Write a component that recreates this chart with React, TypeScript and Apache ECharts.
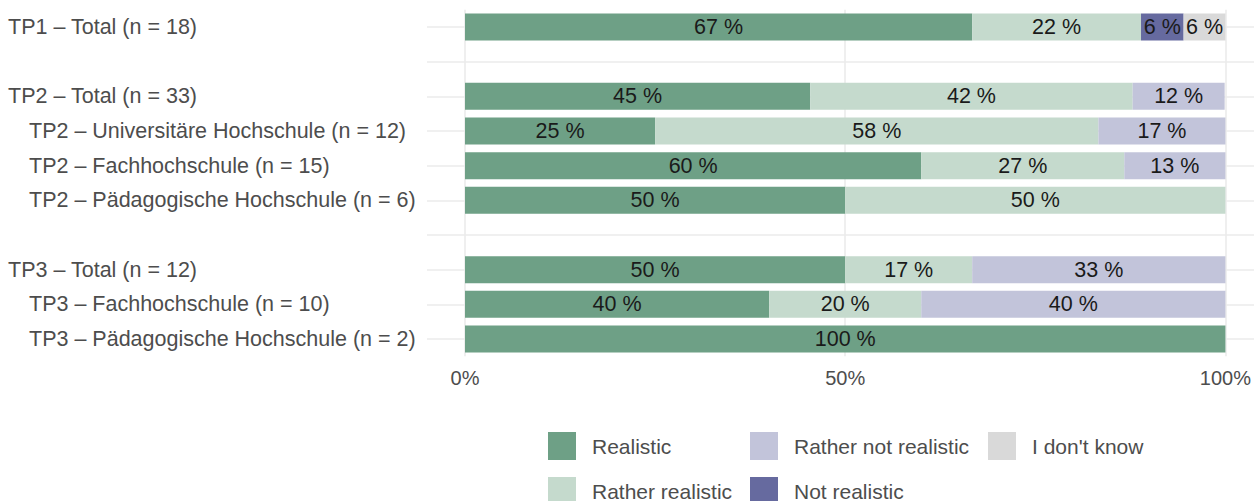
import React, { useEffect, useRef } from "react";
import * as echarts from "echarts";

const categories = [
  "TP1 – Total (n = 18)",
  " ",
  "TP2 – Total (n = 33)",
  "TP2 – Universitäre Hochschule (n = 12)",
  "TP2 – Fachhochschule (n = 15)",
  "TP2 – Pädagogische Hochschule (n = 6)",
  "  ",
  "TP3 – Total (n = 12)",
  "TP3 – Fachhochschule (n = 10)",
  "TP3 – Pädagogische Hochschule (n = 2)",
];
const indented = [false, false, false, true, true, true, false, false, true, true];

const seriesNames = ["Realistic", "Rather realistic", "Rather not realistic", "Not realistic", "I don't know"];
const colors = ["#6ea086", "#c5dacd", "#c2c4da", "#666a9f", "#d9d9d9"];

// percentages per category (blank rows are null)
const realistic = [66.7, null, 45.4, 25.0, 60.0, 50.0, null, 50.0, 40.0, 100.0];
const ratherRealistic = [22.2, null, 42.4, 58.3, 26.7, 50.0, null, 16.7, 20.0, 0];
const ratherNotRealistic = [0, null, 12.1, 16.7, 13.3, 0, null, 33.3, 40.0, 0];
const notRealistic = [5.6, null, 0, 0, 0, 0, null, 0, 0, 0];
const dontKnow = [5.6, null, 0, 0, 0, 0, null, 0, 0, 0];
const seriesValues = [realistic, ratherRealistic, ratherNotRealistic, notRealistic, dontKnow];

const xTicks = [0, 50, 100];

const FONT = "Liberation Sans, Arial, sans-serif";

export default function App() {
  const ref = useRef<HTMLDivElement>(null);
  useEffect(() => {
    if (!ref.current) return;
    const chart = echarts.init(ref.current, null, { renderer: "svg" });
    const band = (339 - 27) / 9;
    const gTop = 27 - band / 2;
    const gHeight = band * 10;

    const legendPos = [
      { left: 548, top: 432 },
      { left: 548, top: 477 },
      { left: 750, top: 432 },
      { left: 750, top: 477 },
      { left: 988, top: 432 },
    ];

    chart.setOption({
      animation: false,
      backgroundColor: "#ffffff",
      textStyle: { fontFamily: FONT },
      grid: [
        { left: 427, right: 0, top: 27, height: 312 },
        { left: 465, width: 761, top: gTop, height: gHeight },
      ],
      xAxis: [
        { type: "value", gridIndex: 0, min: 0, max: 1, show: false },
        {
          type: "value",
          gridIndex: 1,
          min: xTicks[0],
          max: xTicks[xTicks.length - 1],
          interval: 50,
          axisLine: { show: false },
          axisTick: { show: false },
          splitLine: { show: true, lineStyle: { color: "#ebebeb", width: 1.6 } },
          axisLabel: {
            formatter: (v: number) => v + "%",
            color: "#4d4d4d",
            fontSize: 20,
            fontFamily: FONT,
            margin: 12,
          },
        },
      ],
      yAxis: [
        {
          type: "category",
          gridIndex: 0,
          inverse: true,
          boundaryGap: false,
          data: categories,
          axisLine: { show: false },
          axisTick: { show: false },
          splitLine: { show: true, lineStyle: { color: "#ebebeb", width: 1.6 } },
          axisLabel: {
            interval: 0,
            align: "left",
            margin: 419,
            formatter: (v: string, i: number) =>
              indented[i] ? `{s|${v}}` : `{t|${v}}`,
            rich: {
              t: { color: "#4d4d4d", fontSize: 21.5, fontFamily: FONT },
              s: { color: "#4d4d4d", fontSize: 21.5, fontFamily: FONT, padding: [0, 0, 0, 21] },
            },
          },
        },
        {
          type: "category",
          gridIndex: 1,
          inverse: true,
          data: categories,
          show: false,
        },
      ],
      legend: seriesNames.map((name, i) => ({
        data: [name],
        left: legendPos[i].left,
        top: legendPos[i].top,
        padding: 0,
        icon: "rect",
        itemWidth: 28,
        itemHeight: 28,
        selectedMode: false,
        textStyle: { color: "#4d4d4d", fontSize: 21, fontFamily: FONT, padding: [0, 0, 0, 11] },
      })),
      series: seriesNames.map((name, i) => ({
        name,
        type: "bar",
        stack: "total",
        xAxisIndex: 1,
        yAxisIndex: 1,
        barWidth: "78%",
        itemStyle: { color: colors[i] },
        data: seriesValues[i],
        label: {
          show: true,
          position: "inside",
          color: "#1a1a1a",
          fontSize: 21.5,
          fontFamily: FONT,
          formatter: (p: any) =>
            p.value && p.value > 0 ? Math.round(p.value) + " %" : "",
        },
      })),
    });
    return () => chart.dispose();
  }, []);
  return (
    <div
      ref={ref}
      style={{ position: "fixed", left: 0, top: 0, width: 1254, height: 501 }}
    />
  );
}
